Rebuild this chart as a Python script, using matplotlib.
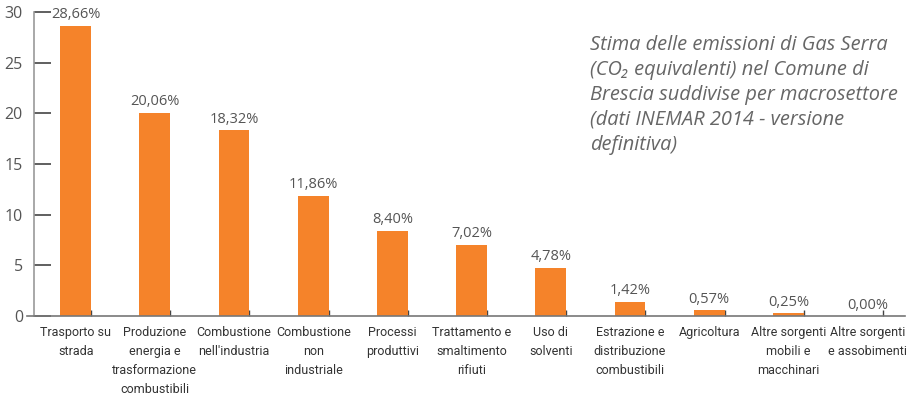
import matplotlib
matplotlib.use("Agg")
import matplotlib.pyplot as plt
import numpy as np

# dati INEMAR 2014 - Comune di Brescia
categories = ["Trasporto su\nstrada",
              "Produzione\nenergia e\ntrasformazione\ncombustibili",
              "Combustione\nnell'industria",
              "Combustione\nnon\nindustriale",
              "Processi\nproduttivi",
              "Trattamento e\nsmaltimento\nrifiuti",
              "Uso di\nsolventi",
              "Estrazione e\ndistribuzione\ncombustibili",
              "Agricoltura",
              "Altre sorgenti\nmobili e\nmacchinari",
              "Altre sorgenti\ne assobimenti"]
values = [28.66, 20.06, 18.32, 11.86, 8.40, 7.02, 4.78, 1.42, 0.57, 0.25, 0.00]
yticks = [0, 5, 10, 15, 20, 25, 30]

orange = "#F5832A"
grey = "#555555"
narrow = ["Liberation Sans Narrow", "Roboto", "DejaVu Sans"]

fig = plt.figure(figsize=(9.09, 4.05), dpi=100)
ax = fig.add_axes([27 / 909, 1 - 316 / 405, (905 - 27) / 909, 304 / 405])

x = np.arange(len(values))
w = 0.39
ax.bar(x, values, width=w, color=orange, zorder=2)

for xi, v in zip(x, values):
    ax.annotate(("%.2f%%" % v).replace(".", ","), (xi, v), xytext=(0, 2.5),
                textcoords="offset points", ha="center", va="bottom",
                fontsize=10.5, color=grey, family=["Open Sans", "DejaVu Sans"])

ax.set_xlim(-0.614, 10.472)
ax.set_ylim(0, 30)

for s in ["top", "right"]:
    ax.spines[s].set_visible(False)
ax.spines["left"].set_position(("outward", -5.04))
ax.spines["left"].set_color("#999999")
ax.spines["bottom"].set_color("#777777")
ax.spines["left"].set_linewidth(1.2)
ax.spines["bottom"].set_linewidth(1.2)

ax.set_yticks(yticks)
ax.set_yticklabels([str(t) for t in yticks], family=["Open Sans", "DejaVu Sans"])
ax.tick_params(axis="y", direction="in", length=12, width=1.2, color="#444444",
               labelsize=11.5, labelcolor=grey, pad=8)

ax.set_xticks(x)
ax.set_xticklabels(categories, family=narrow, fontsize=9, color="#333333",
                   linespacing=1.6, va="top")
ax.tick_params(axis="x", length=0, pad=7)
ax.set_xticks(x + w / 2, minor=True)
ax.tick_params(axis="x", which="minor", direction="in", length=4, width=1,
               color="#444444")

fig.text(590 / 909, 1 - 35 / 405,
         "Stima delle emissioni di Gas Serra\n(CO\u2082 equivalenti) nel Comune di\n"
         "Brescia suddivise per macrosettore\n(dati INEMAR 2014 - versione\ndefinitiva)",
         ha="left", va="top", fontsize=14.4, style="italic", color="#666666",
         family=["Open Sans", "DejaVu Sans"], linespacing=1.33)

fig.savefig("out.png", dpi=100)
